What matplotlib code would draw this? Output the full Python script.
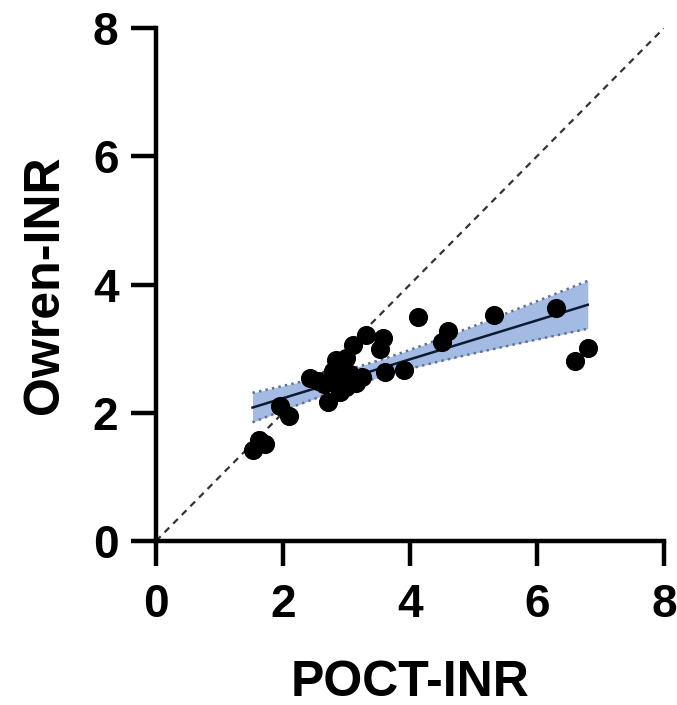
import numpy as np
import matplotlib
matplotlib.use('Agg')
import matplotlib.pyplot as plt

plt.rcParams['font.family'] = ['Liberation Sans', 'DejaVu Sans']
plt.rcParams['font.weight'] = 'bold'

# POCT-INR vs Owren-INR
poct_inr = [1.52, 1.62, 1.72, 1.95, 2.10, 2.42, 2.55, 2.65, 2.71, 2.78,
            2.78, 2.84, 2.89, 2.90, 2.95, 3.00, 3.00, 3.05, 3.10, 3.15,
            3.25, 3.31, 3.52, 3.57, 3.60, 3.90, 4.12, 4.50, 4.60, 5.33,
            6.30, 6.60, 6.80]
owren_inr = [1.42, 1.58, 1.52, 2.10, 1.95, 2.54, 2.50, 2.45, 2.17, 2.48,
             2.65, 2.82, 2.51, 2.32, 2.70, 2.40, 2.85, 2.60, 3.05, 2.46,
             2.55, 3.21, 3.00, 3.16, 2.64, 2.67, 3.50, 3.11, 3.27, 3.53,
             3.64, 2.80, 3.01]
ticks = [0, 2, 4, 6, 8]

x = np.array(poct_inr)
y = np.array(owren_inr)

# linear regression with 95% confidence band
slope, icpt = np.polyfit(x, y, 1)
n = len(x)
resid = y - (icpt + slope * x)
s = np.sqrt(np.sum(resid ** 2) / (n - 2))
t_val = 2.04  # t(0.975, df ~ 31)
xf = np.linspace(x.min(), x.max(), 100)
yf = icpt + slope * xf
se = s * np.sqrt(1 / n + (xf - x.mean()) ** 2 / np.sum((x - x.mean()) ** 2))
lo = yf - t_val * se
hi = yf + t_val * se

fig = plt.figure(figsize=(6.77, 7.05), dpi=100)
ax = fig.add_axes([0.2304, 0.2326, 0.7504, 0.7277])

ax.plot([0, 8], [0, 8], ls=(0, (3, 2.5)), color='#333333', lw=1.6, zorder=1)
ax.fill_between(xf, lo, hi, color='#a3bae3', lw=0, zorder=2)
ax.plot(xf, lo, ls=':', color='#5f7298', lw=1.8, zorder=3)
ax.plot(xf, hi, ls=':', color='#5f7298', lw=1.8, zorder=3)
ax.plot(xf, yf, color='#0d1a33', lw=1.8, zorder=4)
ax.scatter(x, y, s=190, color='black', lw=0, zorder=5)

ax.set_xlim(0, 8)
ax.set_ylim(0, 8)
ax.set_xticks(ticks)
ax.set_yticks(ticks)
for sp in ['top', 'right']:
    ax.spines[sp].set_visible(False)
for sp in ['left', 'bottom']:
    ax.spines[sp].set_linewidth(3.2)
ax.tick_params(width=3.2, length=18, labelsize=33)
ax.tick_params(axis='x', pad=12)
ax.tick_params(axis='y', pad=9)
ax.set_xlabel('POCT-INR', fontsize=36, fontweight='bold', labelpad=24)
ax.set_ylabel('Owren-INR', fontsize=36, fontweight='bold', labelpad=18)

fig.savefig('out.png', dpi=100)
